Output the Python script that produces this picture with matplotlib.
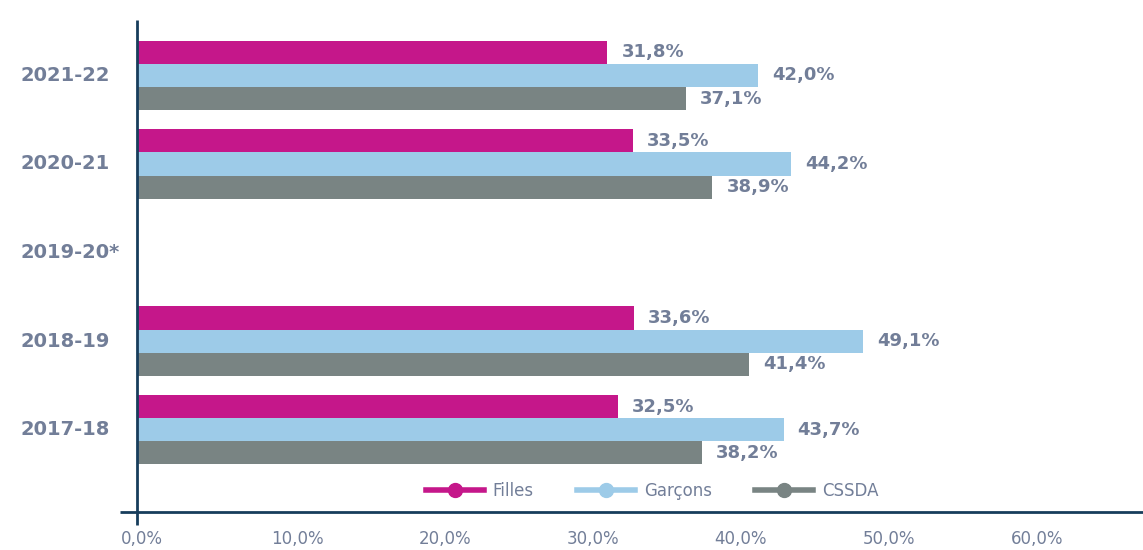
import matplotlib.pyplot as plt
from matplotlib.lines import Line2D
from matplotlib.transforms import ScaledTranslation, blended_transform_factory
import numpy as np

# data, top to bottom as in the chart
years = ['2021-22', '2020-21', '2019-20*', '2018-19', '2017-18']
filles = [31.8, 33.5, None, 33.6, 32.5]
garcons = [42.0, 44.2, None, 49.1, 43.7]
cssda = [37.1, 38.9, None, 41.4, 38.2]
series_names = ['Filles', 'Garçons', 'CSSDA']
xticks = [0, 10, 20, 30, 40, 50, 60]
xtick_labels = ['0,0%', '10,0%', '20,0%', '30,0%', '40,0%', '50,0%', '60,0%']

colors = ['#C5178A', '#9DCBE8', '#798483']
text_color = '#727E98'
axis_color = '#173D5C'

fig = plt.figure(figsize=(11.43, 5.5), dpi=100)
ax = fig.add_axes([137 / 1143, 1 - 512 / 550, 1 - 137 / 1143, 492 / 550])

pos = np.arange(len(years))[::-1]  # 2021-22 at the top
bar_h = 0.26
offsets = [bar_h, 0, -bar_h]

for vals, off, col in zip([filles, garcons, cssda], offsets, colors):
    for p, v in zip(pos, vals):
        if v is None:
            continue
        ax.barh(p + off, v, height=bar_h, color=col, edgecolor='none')
        ax.annotate(f'{v:.1f}%'.replace('.', ','), (v, p + off),
                    xytext=(10, 0), textcoords='offset points',
                    ha='left', va='center', fontsize=13, fontweight='bold',
                    color=text_color)

ax.set_xlim(0, 68)
ax.set_ylim(-0.932, 4.627)

for s in ax.spines.values():
    s.set_visible(False)

# axis lines drawn by hand so they can overhang a little
ax.plot([-17 / 1006, 1], [0, 0], transform=ax.transAxes, color=axis_color,
        lw=2, clip_on=False, solid_capstyle='butt')
ax.plot([0, 0], [-13 / 492, 1], transform=ax.transAxes, color=axis_color,
        lw=2, clip_on=False, solid_capstyle='butt')

ax.set_xticks(xticks)
ax.set_xticklabels(xtick_labels, fontsize=12, color=text_color)
ax.tick_params(axis='x', length=0, pad=13)
for i, lab in enumerate(ax.get_xticklabels()):
    dx = 5 if i == 0 else 12
    lab.set_transform(lab.get_transform() + ScaledTranslation(dx / 100, 0, fig.dpi_scale_trans))

# category labels, left aligned near the figure edge
ax.set_yticks([])
ylab_tr = blended_transform_factory(fig.transFigure, ax.transData)
for p, y in zip(pos, years):
    ax.text(20 / 1143, p, y, transform=ylab_tr, fontsize=14, fontweight='bold',
            color=text_color, va='center', ha='left')

handles = [Line2D([], [], color=c, lw=4, marker='o', markersize=10) for c in colors]
leg = fig.legend(handles, series_names, loc='center', bbox_to_anchor=(652 / 1143, 1 - 491 / 550),
                 ncol=3, frameon=False, fontsize=12, handlelength=3.5, handletextpad=0.5,
                 columnspacing=2.6)
for t in leg.get_texts():
    t.set_color(text_color)

fig.savefig('out.png', dpi=100)
